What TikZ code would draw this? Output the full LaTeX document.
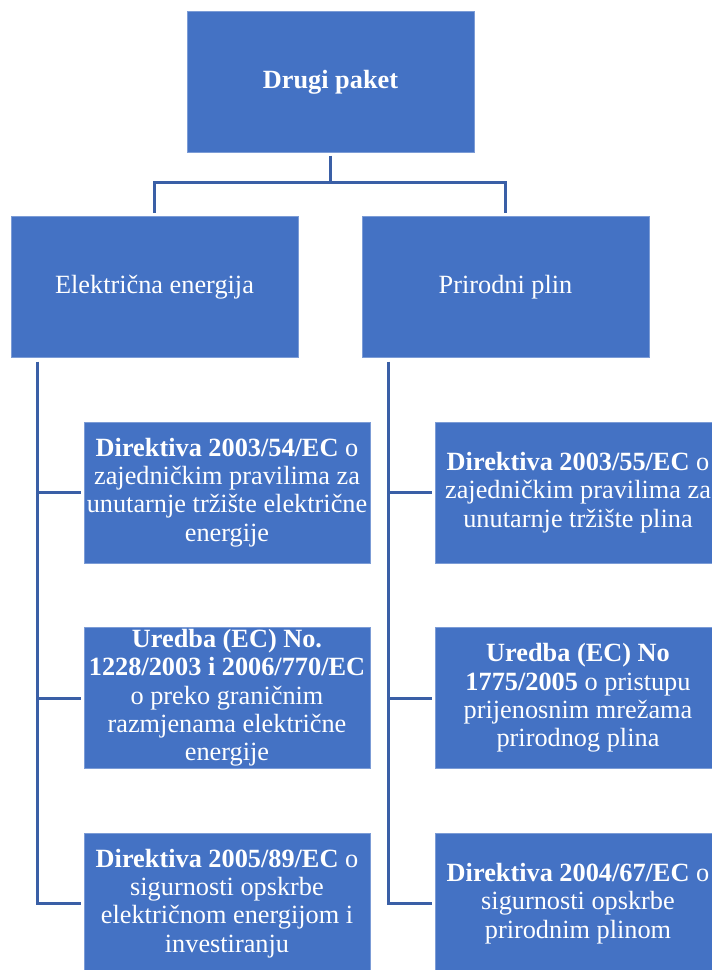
\documentclass[tikz,border=0pt]{standalone}
\usepackage{fontspec}
\setmainfont{Liberation Serif}
\usetikzlibrary{positioning}

\definecolor{boxblue}{HTML}{4472C4}
\definecolor{lineblue}{HTML}{3A5FA6}
\tikzset{
  box/.style={draw=boxblue!70!white,line width=0.6pt,fill=boxblue,text=white,
    minimum width=287pt,minimum height=141pt,inner sep=0pt,align=center,
    font=\fontsize{26.3}{28.3}\selectfont},
  conn/.style={draw=lineblue,line width=3pt}
}

\begin{document}
\begin{tikzpicture}[x=1pt,y=-1pt]
\useasboundingbox (0,0) rectangle (712,970);
\clip (0,0) rectangle (712,970);
\node[box] (top) at (330.5,82) {\textbf{Drugi paket}};
\node[box] (elec) at (154.5,287) {Električna energija};
\node[box] (gas) at (505.5,287) {Prirodni plin};
\node[box,minimum width=286pt] (e1) at (227,492.5) {\textbf{Direktiva 2003/54/EC} o\\ zajedničkim pravilima za\\ unutarnje tržište električne\\ energije};
\node[box,minimum width=286pt] (e2) at (227,698) {\textbf{Uredba (EC) No.}\\ \textbf{1228/2003 i 2006/770/EC}\\ o preko graničnim\\ razmjenama električne\\ energije};
\node[box,minimum width=286pt] (e3) at (227,903.5) {\textbf{Direktiva 2005/89/EC} o\\ sigurnosti opskrbe\\ električnom energijom i\\ investiranju};
\node[box,minimum width=286pt] (g1) at (578,492.5) {\textbf{Direktiva 2003/55/EC} o\\ zajedničkim pravilima za\\ unutarnje tržište plina};
\node[box,minimum width=286pt] (g2) at (578,698) {\textbf{Uredba (EC) No}\\ \textbf{1775/2005} o pristupu\\ prijenosnim mrežama\\ prirodnog plina};
\node[box,minimum width=286pt] (g3) at (578,903.5) {\textbf{Direktiva 2004/67/EC} o\\ sigurnosti opskrbe\\ prirodnim plinom};
% top level
\draw[conn,shorten <=3pt,shorten >=3pt] (top.south) -- ++(0,30) -| (elec.north);
\draw[conn,shorten <=3pt,shorten >=3pt] (top.south) -- ++(0,30) -| (gas.north);
% children
\coordinate (et) at ([xshift=27pt]elec.south west);
\coordinate (gt) at ([xshift=27pt]gas.south west);
\draw[conn,shorten <=4pt,shorten >=3pt] (et) |- (e1.west);
\draw[conn,shorten <=4pt,shorten >=3pt] (et) |- (e2.west);
\draw[conn,shorten <=4pt,shorten >=3pt] (et) |- (e3.west);
\draw[conn,shorten <=4pt,shorten >=3pt] (gt) |- (g1.west);
\draw[conn,shorten <=4pt,shorten >=3pt] (gt) |- (g2.west);
\draw[conn,shorten <=4pt,shorten >=3pt] (gt) |- (g3.west);
\end{tikzpicture}
\end{document}
